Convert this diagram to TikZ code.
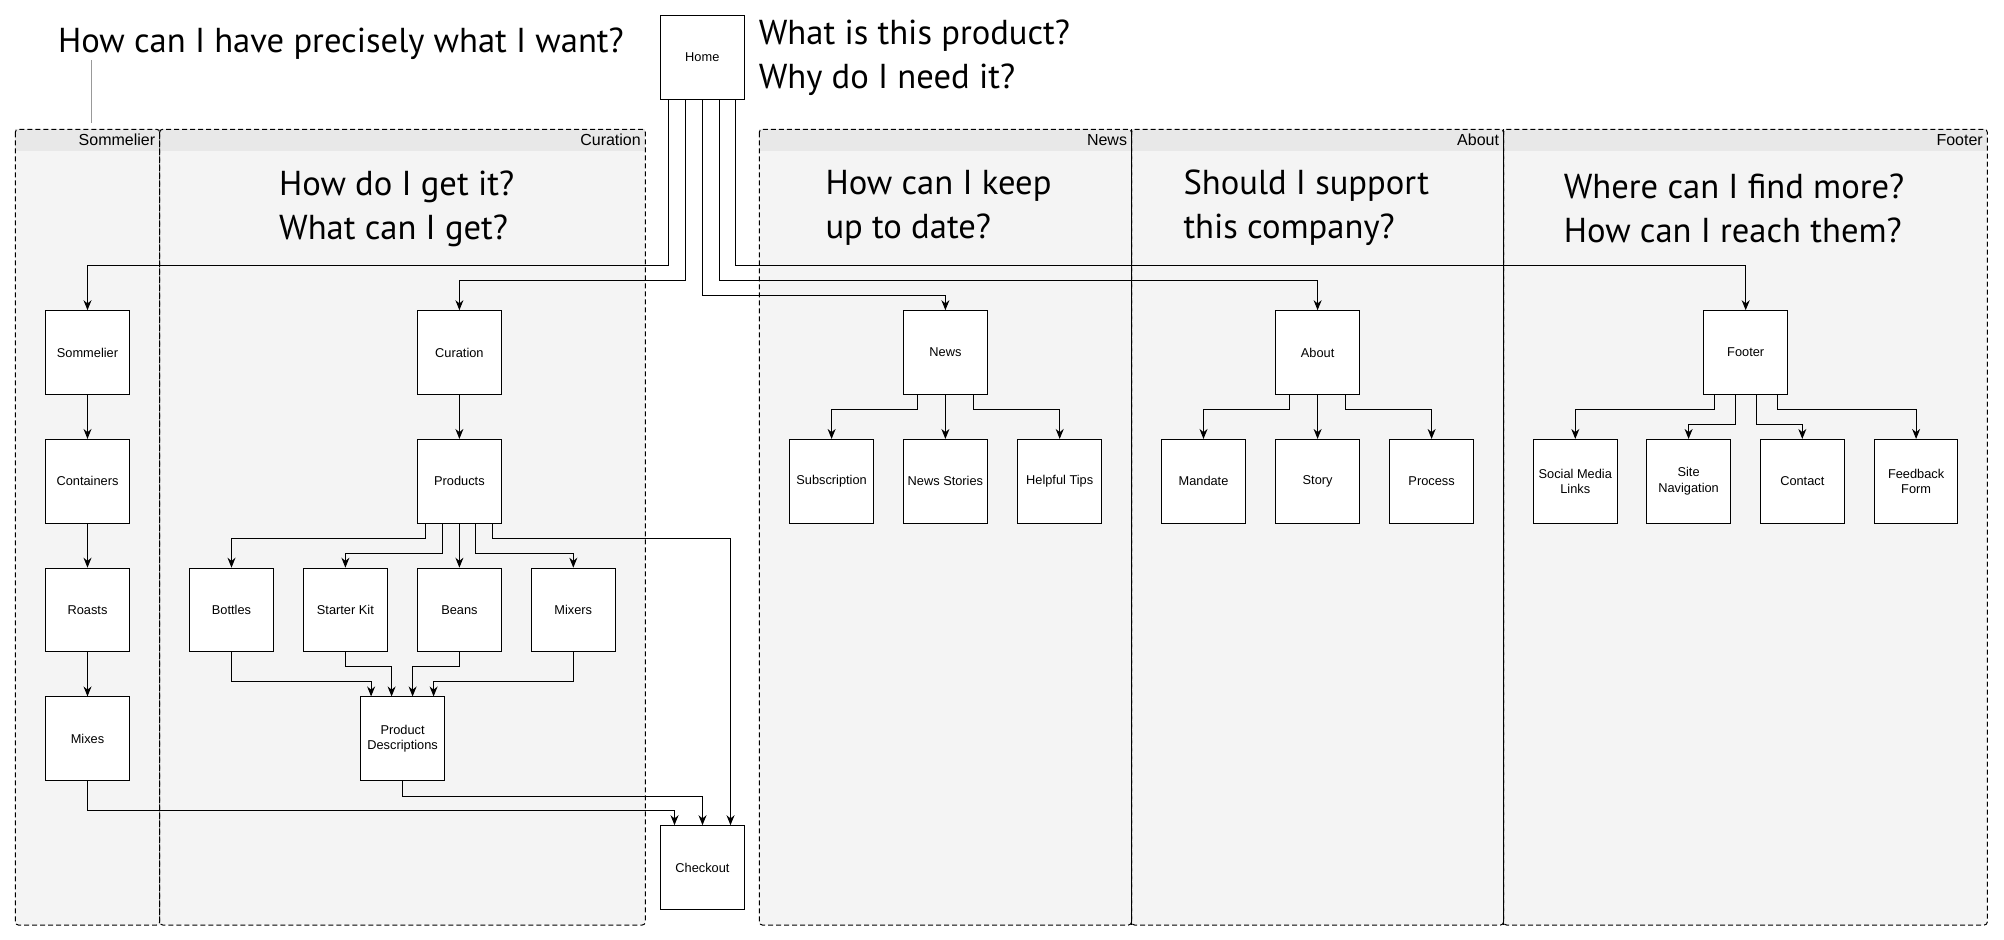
\documentclass[tikz,border=0pt]{standalone}
\usepackage{fontspec}
\setmainfont{Liberation Sans}
\newfontfamily\askfont{PT Sans}
\usepackage{tikz}
\usetikzlibrary{arrows.meta,calc,positioning}
\definecolor{lanebody}{HTML}{F4F4F4}
\definecolor{lanehead}{HTML}{E8E8E8}

\begin{document}
\begin{tikzpicture}[x=0.5pt,y=-0.5pt,line width=0.5pt,>={Stealth[length=5pt,width=4pt]}]
   \useasboundingbox (0,0) rectangle (2004,940);
   \tikzstyle{page}=[draw=black, fill=white, minimum size=41.8pt, inner sep=1pt, align=center, font=\fontsize{6.4}{7.6}\selectfont]
   \tikzstyle{ask}=[anchor=west, align=left, inner sep=0pt, font=\askfont\fontsize{17.3}{22}\selectfont]
   \tikzstyle{lane}=[draw=black, dash pattern=on 2.5pt off 1.5pt, rounded corners=1.5pt]
   % swimlanes
   \foreach \l/\r in {15.3/159.7, 159.7/645.3, 759.3/1131.5, 1131.5/1503.5, 1503.5/1987.3} {
       \fill[lanebody] (\l,129.3) rectangle (\r,925);
       \fill[lanehead] (\l,129.3) rectangle (\r,150.7);
   }
   \foreach \l/\r/\name in {15.3/159.7/Sommelier, 159.7/645.3/Curation, 759.3/1131.5/News, 1131.5/1503.5/About, 1503.5/1987.3/Footer} {
       \draw[lane] (\l,129.3) rectangle (\r,925);
       \node[anchor=east, inner sep=0pt, font=\fontsize{8}{9}\selectfont] (lane\name) at (\r-4,140) {\name};
   }
   \draw (1131.5,129.3) -- (1131.5,925);
   \draw (1503.5,129.3) -- (1503.5,925);
   % questions
   \node[ask, anchor=base west] (want) at (57.5,52.5) {How can I have precisely what I want?};
   \node[ask] (what) at (758.3,58) {What is this product?\\Why do I need it?};
   \node[ask] (getit) at (278.6,208.5) {How do I get it?\\What can I get?};
   \node[ask] (uptodate) at (825,208) {How can I keep\\up to date?};
   \node[ask] (support) at (1183,208) {Should I support\\this company?};
   \node[ask] (findmore) at (1563.3,208) {Where can I find more?\\How can I reach them?};
   \coordinate (tie) at (91.3,123);
   \draw[black!40] (want.south -| tie) -- (tie);
   % pages
   \node[page] (home) at (702.3,57.3) {Home};
   \foreach \name/\word/\y in {sommelier/Sommelier/352.5, containers/Containers/481.25, roasts/Roasts/610, mixes/Mixes/738.75}
       \node[page] (\name) at (87.5,\y) {\word};
   \node[page] (curation) at (459.4,352.5) {Curation};
   \node[page] (products) at (459.4,481.25) {Products};
   \foreach \name/\word/\x in {bottles/Bottles/231.5, starter/Starter Kit/345.4, beans/Beans/459.4, mixers/Mixers/573.3}
       \node[page] (\name) at (\x,610) {\word};
   \node[page] (descr) at (402.6,738.75) {Product\\Descriptions};
   \node[page] (checkout) at (702.5,867.5) {Checkout};
   \node[page] (news) at (945.4,352.5) {News};
   \node[page] (about) at (1317.6,352.5) {About};
   \node[page] (footer) at (1745.7,352.5) {Footer};
   \foreach \name/\word/\x in {subscr/Subscription/831.6, stories/News Stories/945.4, tips/Helpful Tips/1059.7,
                               mandate/Mandate/1203.5, story/Story/1317.6, process/Process/1431.6,
                               social/{Social Media\\Links}/1575.3, sitenav/{Site\\Navigation}/1688.6,
                               contact/Contact/1802.3, feedback/{Feedback\\Form}/1916.1}
       \node[page] (\name) at (\x,481.25) {\word};
   % links from home
   \draw[->] (home.south) ++(-33.5,0) -- ++(0,166) -| (sommelier);
   \draw[->] (home.south) ++(-17,0) -- ++(0,181) -| (curation);
   \draw[->] (home.south) ++(0.5,0) -- ++(0,196) -| (news);
   \draw[->] (home.south) ++(17,0) -- ++(0,181) -| (about);
   \draw[->] (home.south) ++(33.5,0) -- ++(0,166) -| (footer);
   % sommelier path
   \foreach \a/\b in {sommelier/containers, containers/roasts, roasts/mixes, curation/products, products/beans, news/stories, about/story}
       \draw[->] (\a) -- (\b);
   \draw[->] (mixes.south) -- ++(0,29.5) -| ($(checkout.north)+(-28,0)$);
   % curation path
   \draw[->] (products.south) ++(-34,0) -- ++(0,15) -| (bottles);
   \draw[->] (products.south) ++(-17,0) -- ++(0,30) -| (starter);
   \draw[->] (products.south) ++(16,0) -- ++(0,30) -| (mixers);
   \draw[->] (products.south) ++(33,0) -- ++(0,15) -| ($(checkout.north)+(28,0)$);
   \draw[->] (bottles.south) -- ++(0,29) -| ($(descr.north)+(-31.5,0)$);
   \draw[->] (starter.south) -- ++(0,14.4) -| ($(descr.north)+(-11,0)$);
   \draw[->] (beans.south) -- ++(0,14.4) -| ($(descr.north)+(10,0)$);
   \draw[->] (mixers.south) -- ++(0,29) -| ($(descr.north)+(31,0)$);
   \draw[->] (descr.south) -- ++(0,15) -| (checkout);
   % news, about, footer
   \draw[->] (news.south) ++(-28,0) -- ++(0,15) -| (subscr);
   \draw[->] (news.south) ++(28,0) -- ++(0,15) -| (tips);
   \draw[->] (about.south) ++(-28,0) -- ++(0,15) -| (mandate);
   \draw[->] (about.south) ++(28,0) -- ++(0,15) -| (process);
   \draw[->] (footer.south) ++(-31.5,0) -- ++(0,15) -| (social);
   \draw[->] (footer.south) ++(-10.5,0) -- ++(0,29.7) -| (sitenav);
   \draw[->] (footer.south) ++(10.5,0) -- ++(0,29.7) -| (contact);
   \draw[->] (footer.south) ++(31.5,0) -- ++(0,15) -| (feedback);
\end{tikzpicture}
\end{document}
